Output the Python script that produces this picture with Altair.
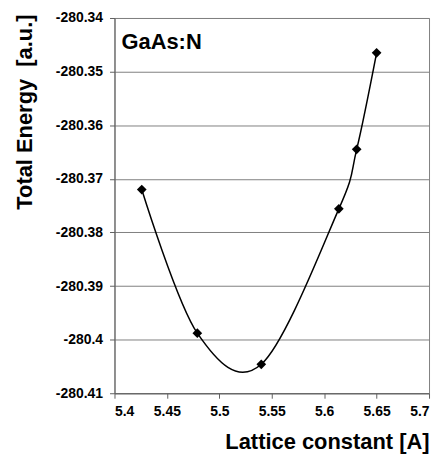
import altair as alt
import pandas as pd

lattice = [5.426, 5.479, 5.540, 5.614, 5.631, 5.650]
energy = [-280.372, -280.3988, -280.4046, -280.3756, -280.3645, -280.3465]
x_ticks = [5.4, 5.45, 5.5, 5.55, 5.6, 5.65, 5.7]
y_ticks = [-280.41, -280.40, -280.39, -280.38, -280.37, -280.36, -280.35, -280.34]
label_text = ["GaAs:N"]

df = pd.DataFrame({"a": lattice, "E": energy})
FONT = "Liberation Sans"

x_enc = alt.X("a:Q", scale=alt.Scale(domain=[5.4, 5.7], nice=False, zero=False),
              axis=alt.Axis(values=x_ticks, labelExpr="format(datum.value, '.2~f')",
                            title="Lattice constant [A]", grid=False,
                            titleX=316, titleY=49, titleAlign="right", titleBaseline="middle",
                            labelPadding=6, tickSize=5))
y_enc = alt.Y("E:Q", scale=alt.Scale(domain=[-280.41, -280.34], nice=False, zero=False),
              axis=alt.Axis(values=y_ticks, labelExpr="'-' + format(abs(datum.value), '.2~f')",
                            title="Total Energy\u00a0 [a.u.]", grid=True,
                            titleAngle=-90, titleX=-90, titleY=94,
                            titleAlign="center", titleBaseline="middle",
                            labelPadding=7, tickSize=5))

base = alt.Chart(df)
line = base.mark_line(color="black", strokeWidth=1.5, interpolate="cardinal").encode(x=x_enc, y=y_enc)
pts = base.mark_point(shape="diamond", filled=True, color="black", size=95, opacity=1).encode(x="a:Q", y="E:Q")
txt = alt.Chart(pd.DataFrame({"t": label_text})).mark_text(
    align="left", baseline="alphabetic", fontSize=22, fontWeight="bold", font=FONT, color="black"
).encode(x=alt.value(7), y=alt.value(31), text="t:N")

chart = alt.layer(line, pts, txt).properties(
    width=316, height=377,
    autosize=alt.AutoSizeParams(type="none"),
    padding={"left": 107, "top": 9, "right": 5, "bottom": 60},
    background="white",
).configure_view(stroke="#808080", strokeWidth=1).configure_axis(
    labelFont=FONT, titleFont=FONT, labelFontSize=14, labelFontWeight="bold",
    titleFontSize=22, titleFontWeight="bold", labelColor="black", titleColor="black",
    gridColor="#808080", gridWidth=1, domainColor="#606060", tickColor="#606060",
)

chart.save("out.html", embed_options={"renderer": "svg", "actions": False})
